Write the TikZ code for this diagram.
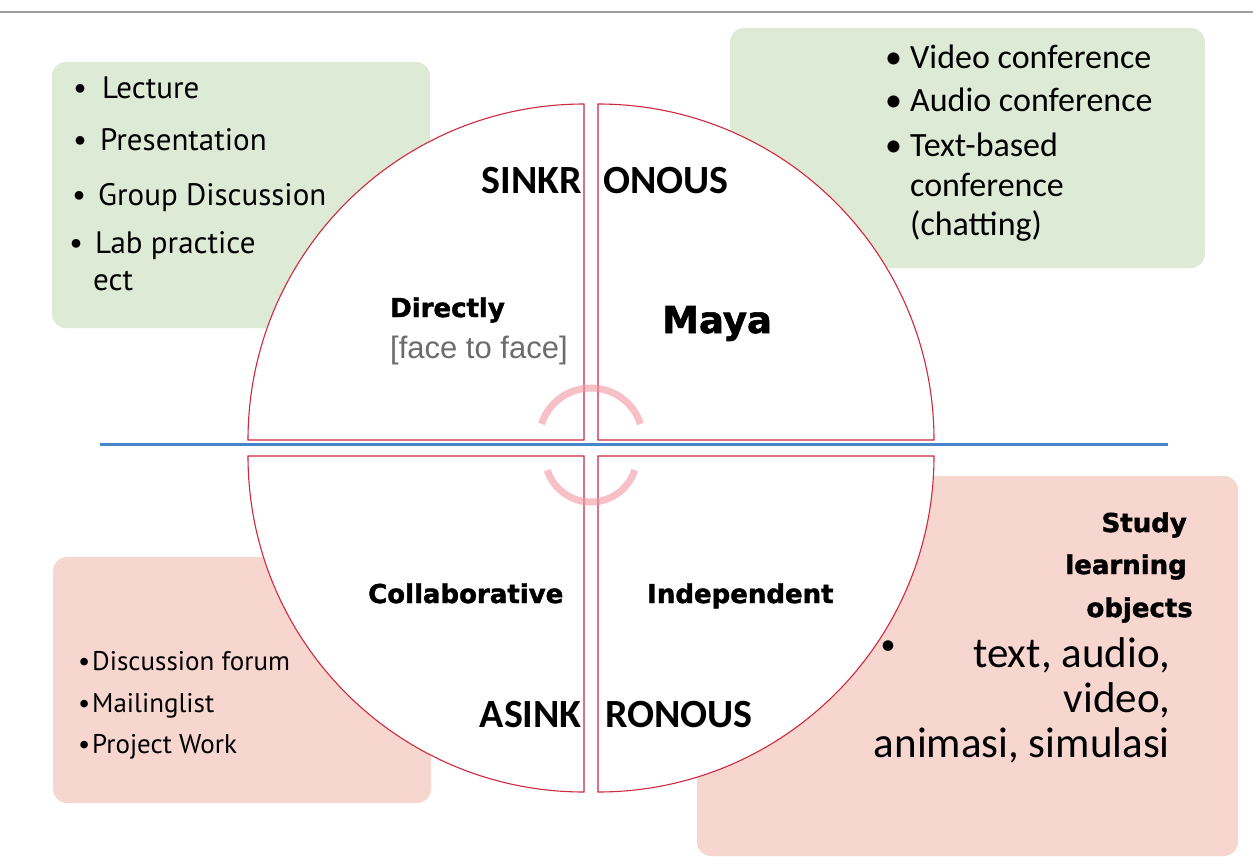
\documentclass[tikz,border=0pt]{standalone}
\usepackage{fontspec}
\setmainfont{Carlito}
\newfontfamily\listfont{PT Sans}
\newfontfamily\heavyfont[BoldFeatures={FakeBold=1.6}]{DejaVu Sans}
\newfontfamily\plainfont{Liberation Sans}
\definecolor{boxgreen}{RGB}{221,235,214}
\definecolor{boxpink}{RGB}{246,214,207}
\definecolor{quadred}{RGB}{208,40,62}
\definecolor{lineblue}{RGB}{72,132,200}
\definecolor{ringpink}{RGB}{240,150,160}
\newcommand{\itemdot}[1]{\makebox[#1][l]{\textbullet}}
\begin{document}
\begin{tikzpicture}[x=1pt,y=-1pt,
    greenbox/.style={fill=boxgreen,rounded corners=14pt},
    pinkbox/.style={fill=boxpink,rounded corners=14pt},
    quad/.style={draw=quadred,line width=1.1pt,fill=white},
    ring/.style={draw=ringpink,line width=7pt,opacity=.6},
    lst/.style={anchor=base west,inner sep=0pt,font=\listfont\fontsize{31}{36}\selectfont},
    small/.style={anchor=base west,inner sep=0pt,font=\listfont\fontsize{27}{32}\selectfont},
    conf/.style={anchor=base west,inner sep=0pt,font=\fontsize{34}{40}\selectfont},
    heavy/.style={inner sep=0pt,font=\heavyfont\bfseries\fontsize{26}{30}\selectfont},
    sync/.style={inner sep=0pt,font=\bfseries\fontsize{40}{48}\selectfont},
    media/.style={anchor=base east,inner sep=0pt,font=\fontsize{43}{50}\selectfont}]

  \useasboundingbox (0,0) rectangle (1253,863);
  \fill[white] (0,0) rectangle (1253,863);
  \draw[gray!75,line width=1.5pt] (0,12) -- (1253,12);

  % boxes behind the circle
  \fill[greenbox] (52,62) rectangle (430,328);
  \fill[greenbox] (730,28) rectangle (1205,268);
  \fill[pinkbox] (53,557) rectangle (431,803);
  \fill[pinkbox] (697,476) rectangle (1238,856);

  % four quadrants
  \draw[quad] (584,440) -- (248,440) arc[start angle=180,end angle=270,radius=336] -- cycle;
  \draw[quad] (598,440) -- (598,104) arc[start angle=270,end angle=360,radius=336] -- cycle;
  \draw[quad] (584,456) -- (584,792) arc[start angle=90,end angle=180,radius=336] -- cycle;
  \draw[quad] (598,456) -- (934,456) arc[start angle=0,end angle=90,radius=336] -- cycle;
  \draw[ring] (591,440) ++(198:52) arc[start angle=198,end angle=342,radius=52];
  \draw[ring] (591,456) ++(162:46) arc[start angle=162,end angle=18,radius=46];
  \draw[lineblue,line width=3pt] (100,444) -- (1168,444);

  % lists
  \node[lst] (lecture) at (73,98) {\itemdot{29pt}Lecture};
  \node[lst] (present) at (73,150) {\itemdot{27pt}Presentation};
  \node[lst] (group) at (72,205) {\itemdot{26pt}Group Discussion};
  \node[lst] (lab) at (69,253) {\itemdot{26pt}Lab practice};
  \node[lst] (ect) at (93,290) {ect};

  \node[conf] (video) at (885,68) {\itemdot{25pt}Video conference};
  \node[conf] (audio) at (885,111) {\itemdot{25pt}Audio conference};
  \node[conf] (textb) at (885,156) {\itemdot{25pt}Text-based};
  \node[conf] (confr) at (910,196) {conference};
  \node[conf] (chat) at (910,235) {(chatting)};

  \node[small] (forum) at (78,670) {\itemdot{14pt}Discussion forum};
  \node[small] (mail) at (78,712) {\itemdot{14pt}Mailinglist};
  \node[small] (project) at (78,753) {\itemdot{14pt}Project Work};

  % labels in the circle
  \node[sync,anchor=base east] (sinkr) at (582,193) {SINKR};
  \node[sync,anchor=base west] (onous) at (603,193) {ONOUS};
  \node[sync,anchor=base east] (asink) at (582,727) {ASINK};
  \node[sync,anchor=base west] (ronous) at (605,727) {RONOUS};
  \node[heavy,anchor=base west] (directly) at (390,317) {Directly};
  \node[anchor=base west,inner sep=0pt,text=gray!85!black,
    font=\plainfont\fontsize{31}{36}\selectfont] (face) at (390,358) {[face to face]};
  \node[anchor=base west,inner sep=0pt,font=\heavyfont\bfseries\fontsize{37}{44}\selectfont]
    (maya) at (662,333) {Maya};
  \node[heavy,anchor=base west] (collab) at (368,603) {Collaborative};
  \node[heavy,anchor=base west] (indep) at (647,603) {Independent};

  % study box
  \node[heavy,anchor=base east] (study) at (1187,532) {Study};
  \node[heavy,anchor=base east] (learning) at (1187,574) {learning};
  \node[heavy,anchor=base east] (objects) at (1193,617) {objects};
  \node[media] (textaudio) at (1170,667) {text, audio,};
  \node[media] (videoln) at (1170,712) {video,};
  \node[media] (anim) at (1170,757) {animasi, simulasi};
  \node[inner sep=0pt,font=\fontsize{30}{30}\selectfont] (dot) at (888,648) {\textbullet};
\end{tikzpicture}
\end{document}
